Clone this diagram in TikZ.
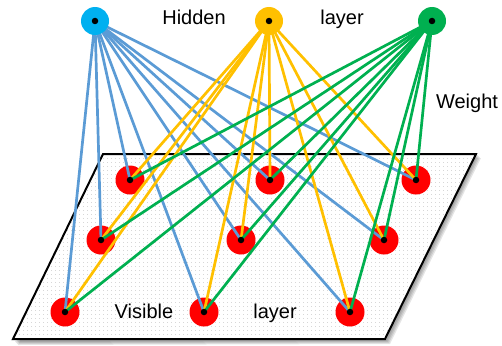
\documentclass[tikz,border=0pt]{standalone}
\usepackage{fontspec}
\setmainfont{Liberation Sans}
\usetikzlibrary{patterns.meta}
\definecolor{hblue}{HTML}{00B0F0}
\definecolor{hyellow}{HTML}{FFC000}
\definecolor{hgreen}{HTML}{00B050}
\definecolor{lblue}{HTML}{5B9BD5}
\definecolor{vred}{HTML}{FF0000}
\begin{document}
\begin{tikzpicture}[x=1pt,y=-1pt,
  hid/.style={circle,minimum size=28pt,inner sep=0pt},
  vis/.style={circle,fill=vred,minimum size=29pt,inner sep=0pt},
  dotc/.style={circle,fill=black,minimum size=6.5pt,inner sep=0pt},
  edge/.style={line width=2.7pt},
  lbl/.style={font=\fontsize{20}{24}\selectfont,anchor=base,inner sep=0pt}]
\useasboundingbox (0,0) rectangle (502,345);
% plane shadow
\foreach \k in {5,4,3,2} {
  \fill[black,opacity=0.1] (103+\k,155+\k) -- (476+\k,153+\k) -- (385+\k,339+\k) -- (13+\k,340+\k) -- cycle;
}
% plane
\coordinate (p1) at (103,154);
\coordinate (p2) at (476,154);
\coordinate (p3) at (385,339);
\coordinate (p4) at (13,339);
\fill[white] (p1) -- (p2) -- (p3) -- (p4) -- cycle;
\fill[pattern={Dots[distance=4pt,radius=0.45pt]},pattern color=gray!55] (p1) -- (p2) -- (p3) -- (p4) -- cycle;
\draw[line width=2pt,line join=miter] (p1) -- (p2) -- (p3) -- (p4) -- cycle;
% visible nodes
\node[vis] (v1) at (130,180) {};
\node[vis] (v2) at (270,180) {};
\node[vis] (v3) at (416,180) {};
\node[vis] (v4) at (101,240) {};
\node[vis] (v5) at (241,240) {};
\node[vis] (v6) at (384,240) {};
\node[vis] (v7) at (65,312) {};
\node[vis] (v8) at (204,312) {};
\node[vis] (v9) at (350,312) {};
% hidden positions
\coordinate (hb) at (95,21);
\coordinate (hy) at (269,21);
\coordinate (hg) at (432,21);
% edges
\foreach \v in {1,...,9} {
  \draw[edge,lblue] (hb) -- (v\v.center);
}
\foreach \v in {1,...,9} {
  \draw[edge,hyellow] (hy) -- (v\v.center);
}
\foreach \v in {1,...,9} {
  \draw[edge,hgreen] (hg) -- (v\v.center);
}
% hidden nodes
\node[hid,fill=hblue] (h1) at (hb) {};
\node[hid,fill=hyellow] (h2) at (hy) {};
\node[hid,fill=hgreen] (h3) at (hg) {};
\foreach \n in {h1,h2,h3,v1,v2,v3,v4,v5,v6,v7,v8,v9} {
  \node[dotc] (d\n) at (\n.center) {};
}
% labels
\node[lbl] (t1) at (194,25) {Hidden};
\node[lbl] (t2) at (342,25) {layer};
\node[lbl] (t3) at (467,108) {Weight};
\node[lbl] (t4) at (144,318) {Visible};
\node[lbl] (t5) at (275,318) {layer};
\end{tikzpicture}
\end{document}
